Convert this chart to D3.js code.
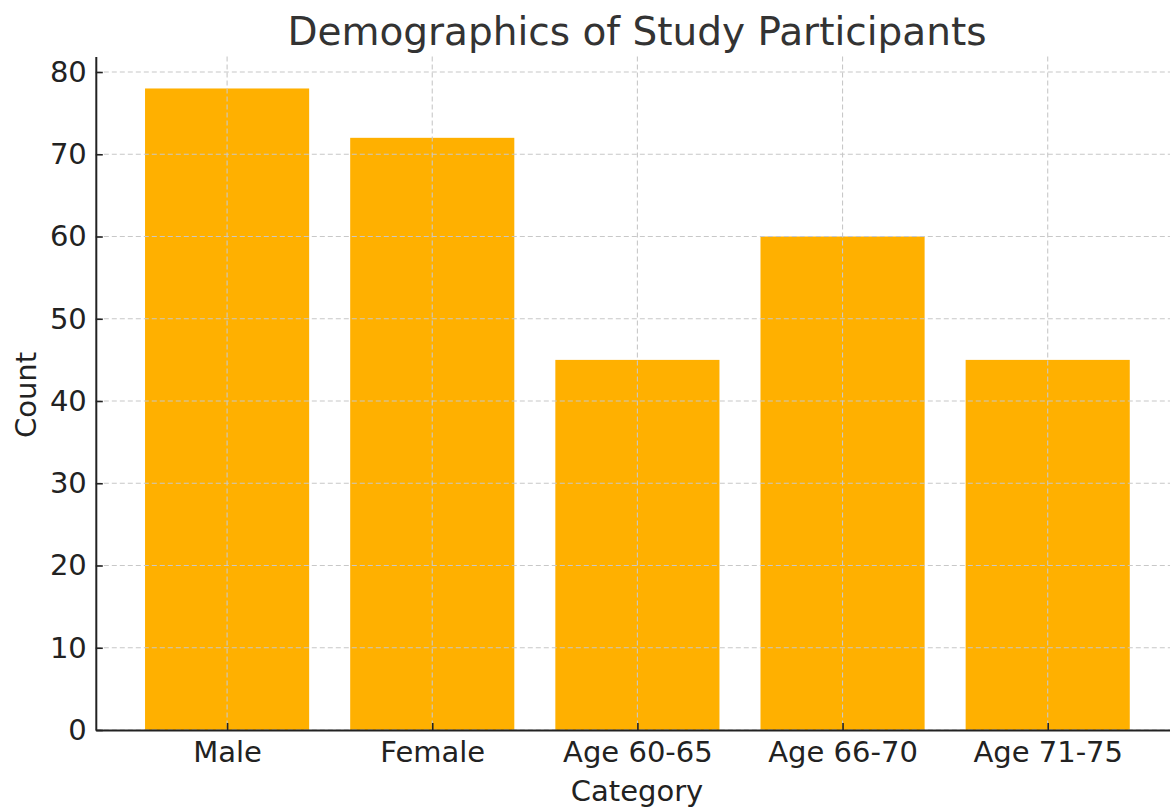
<!DOCTYPE html>
<html><head><meta charset="utf-8">
<script src="https://cdn.jsdelivr.net/npm/d3@7"></script>
<style>body{margin:0;background:#fff}svg{display:block}text{font-family:"DejaVu Sans",sans-serif}</style>
</head><body><svg id="c" width="1170" height="808"></svg>
<script>
const categories = ["Male","Female","Age 60-65","Age 66-70","Age 71-75"];
const counts = [78,72,45,60,45];
const yTicks = [0,10,20,30,40,50,60,70,80];

const svg = d3.select("#c");
const L = 95.8, R = 1179, T = 56.4, B = 730;
const x = d3.scaleLinear().domain([-0.64, 4.64]).range([L, R]);
const y = d3.scaleLinear().domain([0, 81.9]).range([B, T]);
const bw = x(0.4) - x(-0.4);

svg.append("g").selectAll("rect").data(counts).join("rect")
  .attr("x",(d,i)=>x(i)-bw/2).attr("width",bw)
  .attr("y",d=>y(d)).attr("height",d=>B-y(d)).attr("fill","#FFB000");

const grid = svg.append("g").attr("stroke","#c8c8c8").attr("stroke-width",1.1).attr("stroke-dasharray","5,3");
grid.selectAll("line.h").data(yTicks).join("line").attr("class","h")
  .attr("x1",L).attr("x2",R).attr("y1",d=>y(d)).attr("y2",d=>y(d));
grid.selectAll("line.v").data(categories).join("line").attr("class","v")
  .attr("x1",(d,i)=>x(i)).attr("x2",(d,i)=>x(i)).attr("y1",T).attr("y2",B);

const yAxis = d3.axisLeft(y).tickValues(yTicks).tickSizeInner(-7).tickSizeOuter(0).tickPadding(9);
const ya = svg.append("g").attr("transform",`translate(${L},0)`).call(yAxis);
ya.attr("font-size",null).attr("font-family",null);
ya.select(".domain").attr("stroke","#222").attr("stroke-width",2);
ya.selectAll(".tick line").attr("stroke","#222").attr("stroke-width",1.6);
ya.selectAll(".tick text").style("font-size","29px").attr("fill","#222");

const xAxis = d3.axisBottom(x).tickValues(d3.range(categories.length)).tickFormat(i=>categories[i]).tickSizeInner(-7).tickSizeOuter(0).tickPadding(11);
const xa = svg.append("g").attr("transform",`translate(0,${B})`).call(xAxis);
xa.attr("font-size",null).attr("font-family",null);
xa.select(".domain").attr("stroke","#222").attr("stroke-width",2);
xa.selectAll(".tick line").attr("stroke","#222").attr("stroke-width",1.6);
xa.selectAll(".tick text").style("font-size","29px").attr("fill","#222");

svg.append("text").attr("x",637).attr("y",45).attr("text-anchor","middle")
  .style("font-size","39px").attr("fill","#333").text("Demographics of Study Participants");
svg.append("text").attr("x",637).attr("y",801).attr("text-anchor","middle")
  .style("font-size","29px").attr("fill","#222").text("Category");
svg.append("text").attr("transform","translate(36,395) rotate(-90)").attr("text-anchor","middle")
  .style("font-size","29px").attr("fill","#222").text("Count");
</script></body></html>
